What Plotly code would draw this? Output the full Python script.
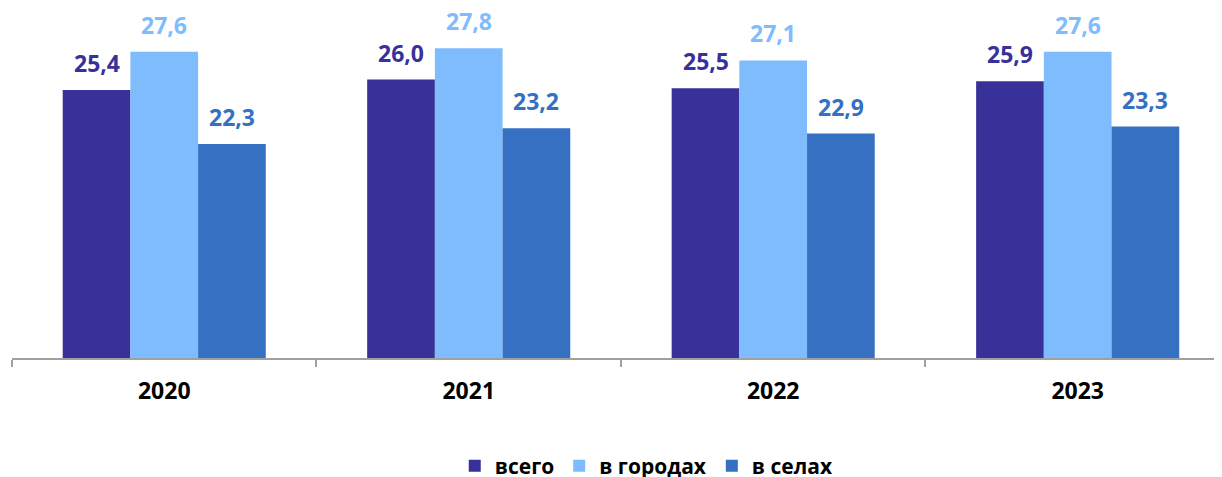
import plotly.graph_objects as go

years = ["2020", "2021", "2022", "2023"]
series_names = ["всего", "в городах", "в селах"]
total = [25.4, 26.0, 25.5, 25.9]
urban = [27.6, 27.8, 27.1, 27.6]
rural = [22.3, 23.2, 22.9, 23.3]
colors = ["#38319A", "#7FBCFE", "#3570C3"]

values = [total, urban, rural]
FONT = "Open Sans"

fig = go.Figure()
for name, vals, col in zip(series_names, values, colors):
    fig.add_trace(go.Bar(x=years, y=vals, name=name, marker=dict(color=col, line=dict(width=0))))

bargap = 0.333
bw = (1 - bargap) / 3
for si, (vals, col) in enumerate(zip(values, colors)):
    for ci, v in enumerate(vals):
        fig.add_annotation(
            x=ci + (si - 1) * bw, y=v, xref="x", yref="y",
            text=f"{v:.1f}".replace(".", ","), showarrow=False,
            yanchor="bottom", yshift=9,
            font=dict(family=FONT, size=23, color=col, weight="bold"),
        )

fig.update_layout(
    width=1214, height=469,
    margin=dict(l=4, r=0, t=2, b=119, autoexpand=False),
    barmode="group", bargap=bargap, bargroupgap=0,
    plot_bgcolor="white", paper_bgcolor="white",
    font=dict(family=FONT),
    showlegend=True,
    legend=dict(
        orientation="h", xref="container", yref="container",
        x=0.368, y=0.0235, xanchor="left", yanchor="middle",
        font=dict(family=FONT, size=21, color="black", weight="bold"),
        itemwidth=30, traceorder="normal",
    ),
    xaxis=dict(
        type="category", range=[-0.5, 3.474],
        showline=True, linecolor="#A0A0A0", linewidth=1.5,
        ticks="outside", tickson="boundaries", ticklen=7, tickcolor="#A0A0A0", tickwidth=1.5,
        tickfont=dict(family=FONT, size=23, color="black", weight="bold"),
        ticklabelstandoff=12, showgrid=False,
    ),
    yaxis=dict(range=[10, 30], visible=False, showgrid=False, zeroline=False),
)

fig.write_html("out.html")
